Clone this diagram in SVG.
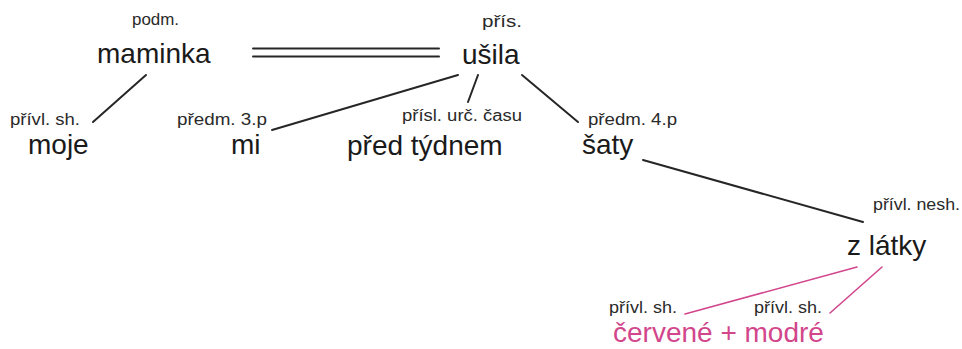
<svg xmlns="http://www.w3.org/2000/svg" width="962" height="349" viewBox="0 0 962 349">
<style>
text{font-family:"Liberation Sans",Arial,sans-serif}
.w{font-size:28px;fill:#1a1a1a}
.l{font-size:16px;fill:#2a2a2a}
.p{fill:#d2468c}
.c{stroke:#262626;stroke-width:2;fill:none;stroke-linecap:round}
.cp{stroke:#d2468c;stroke-width:1.6;fill:none;stroke-linecap:round}
</style>
<rect width="962" height="349" fill="#fff"/>
<g id="connectors">
<line class="c" x1="253" y1="48.5" x2="439" y2="48.5"/>
<line class="c" x1="253" y1="56.5" x2="439" y2="56.5"/>
<line class="c" x1="146" y1="75" x2="93" y2="122"/>
<line class="c" x1="458" y1="75" x2="272" y2="130"/>
<line class="c" x1="478" y1="75" x2="468" y2="102"/>
<line class="c" x1="522" y1="75" x2="578" y2="122"/>
<line class="c" x1="643" y1="160" x2="863" y2="222"/>
<line class="cp" x1="857" y1="267" x2="685" y2="314"/>
<line class="cp" x1="882" y1="267" x2="830" y2="313"/>
</g>
<g id="maminka"><text class="l" x="132" y="25" textLength="47" lengthAdjust="spacingAndGlyphs">podm.</text><text class="w" x="97" y="63">maminka</text></g>
<g id="usila"><text class="l" x="482" y="27" textLength="40" lengthAdjust="spacingAndGlyphs">přís.</text><text class="w" x="462" y="64">ušila</text></g>
<g id="moje"><text class="l" x="10" y="125" textLength="70" lengthAdjust="spacingAndGlyphs">přívl. sh.</text><text class="w" x="28" y="154">moje</text></g>
<g id="mi"><text class="l" x="177" y="125" textLength="90" lengthAdjust="spacingAndGlyphs">předm. 3.p</text><text class="w" x="231" y="154">mi</text></g>
<g id="pred-tydnem"><text class="l" x="402" y="121" textLength="120" lengthAdjust="spacingAndGlyphs">přísl. urč. času</text><text class="w" x="347" y="155">před týdnem</text></g>
<g id="saty"><text class="l" x="588" y="125" textLength="89" lengthAdjust="spacingAndGlyphs">předm. 4.p</text><text class="w" x="582" y="154">šaty</text></g>
<g id="z-latky"><text class="l" x="873" y="210" textLength="87" lengthAdjust="spacingAndGlyphs">přívl. nesh.</text><text class="w" x="847" y="255">z látky</text></g>
<g id="cervene-modre"><text class="l" x="609" y="313" textLength="68" lengthAdjust="spacingAndGlyphs">přívl. sh.</text><text class="l" x="754" y="313" textLength="68" lengthAdjust="spacingAndGlyphs">přívl. sh.</text><text class="w p" x="613" y="342">červené + modré</text></g>
</svg>
